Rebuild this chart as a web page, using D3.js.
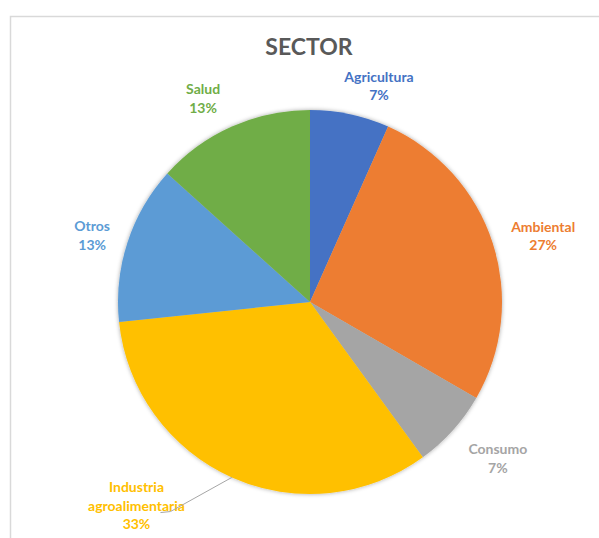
<!DOCTYPE html>
<html>
<head>
<meta charset="utf-8">
<script src="https://cdn.jsdelivr.net/npm/d3@7/dist/d3.min.js"></script>
<style>
  html, body { margin: 0; padding: 0; background: #fff; }
  svg { display: block; font-family: Lato, "Open Sans", sans-serif; }
</style>
</head>
<body>
<svg id="chart" width="599" height="538"></svg>
<script>
// Sector breakdown (counts per sector)
const categories = ["Agricultura", "Ambiental", "Consumo", "Industria agroalimentaria", "Otros", "Salud"];
const values = [1, 4, 1, 5, 2, 2];
const colors = ["#4472C4", "#ED7D31", "#A5A5A5", "#FFC000", "#5B9BD5", "#70AD47"];
const labelLines = [["Agricultura"], ["Ambiental"], ["Consumo"], ["Industria", "agroalimentaria"], ["Otros"], ["Salud"]];
const title = "SECTOR";

const svg = d3.select("#chart");
const W = 599, H = 538;

// chart area frame
svg.append("rect")
  .attr("x", 10.5).attr("y", 16.5)
  .attr("width", W + 20).attr("height", H + 20)
  .attr("fill", "#fff").attr("stroke", "#d9d9d9").attr("stroke-width", 1.5);

// soft outer shadow for the pie
const defs = svg.append("defs");
const f = defs.append("filter").attr("id", "shadow")
  .attr("x", "-10%").attr("y", "-10%").attr("width", "120%").attr("height", "120%");
f.append("feDropShadow").attr("dx", 0).attr("dy", 0)
  .attr("stdDeviation", 2).attr("flood-color", "#000").attr("flood-opacity", 0.35);

svg.append("text")
  .attr("x", 309).attr("y", 55)
  .attr("text-anchor", "middle")
  .attr("font-size", 23).attr("font-weight", 700)
  .attr("fill", "#595959")
  .text(title);

const cx = 310, cy = 302, R = 192;
const data = categories.map((c, i) => ({ name: c, value: values[i], color: colors[i], lines: labelLines[i] }));
const total = d3.sum(values);

const pie = d3.pie().value(d => d.value).sort(null);
const arc = d3.arc().innerRadius(0).outerRadius(R);
const arcs = pie(data);

const g = svg.append("g").attr("transform", `translate(${cx},${cy})`);
g.append("g").attr("filter", "url(#shadow)")
  .selectAll("path").data(arcs).join("path")
  .attr("d", arc)
  .attr("fill", d => d.data.color);

// label placement: radius beyond the rim and a small nudge per slice
const labelRadius = { "Agricultura": 226, "Ambiental": 242, "Consumo": 246,
  "Industria agroalimentaria": 225, "Otros": 228, "Salud": 226 };
const nudge = { "Agricultura": [22, 5], "Ambiental": [3, 9], "Consumo": [5, -8],
  "Industria agroalimentaria": [-82, -2], "Otros": [-1, 4], "Salud": [-15, 3] };

const lineH = 18.5;
arcs.forEach(a => {
  const mid = (a.startAngle + a.endAngle) / 2;
  const r = labelRadius[a.data.name];
  const n = nudge[a.data.name];
  const x = Math.sin(mid) * r + n[0];
  const y = -Math.cos(mid) * r + n[1];
  const lines = a.data.lines.concat([d3.format(".0%")(a.data.value / total)]);
  const t = g.append("text")
    .attr("text-anchor", "middle")
    .attr("font-size", 14).attr("font-weight", 700)
    .attr("fill", a.data.color);
  const y0 = y - (lines.length - 1) * lineH / 2 + 5;
  lines.forEach((s, i) => {
    t.append("tspan").attr("x", x).attr("y", y0 + i * lineH).text(s);
  });
  a.labelPos = [x, y];
});

// leader line for the bottom-left label
const ind = arcs[3];
const midI = (ind.startAngle + ind.endAngle) / 2;
const edge = [Math.sin(midI) * R, -Math.cos(midI) * R];
const lp = ind.labelPos;
g.append("path")
  .attr("d", d3.line()([edge, [lp[0] + 34, lp[1] + 6], [lp[0] + 24, lp[1] + 7]]))
  .attr("fill", "none").attr("stroke", "#a6a6a6").attr("stroke-width", 1);
</script>
</body>
</html>
